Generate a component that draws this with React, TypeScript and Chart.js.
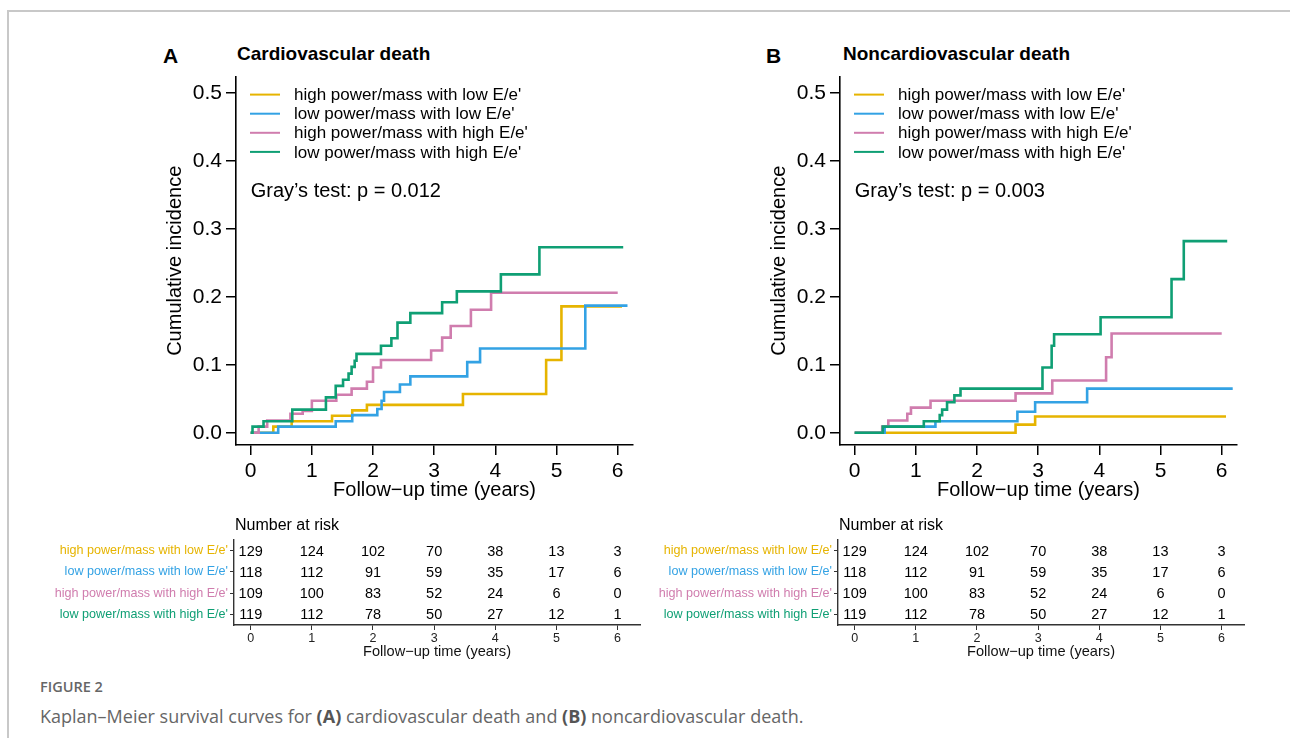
import React, { useEffect, useRef } from "react";
import { Chart, registerables } from "chart.js";

Chart.register(...registerables);
Chart.defaults.font.family = '"Liberation Sans", Arial, sans-serif';

// ---------- data ----------
const groupLabels = [
  "high power/mass with low E/e'",
  "low power/mass with low E/e'",
  "high power/mass with high E/e'",
  "low power/mass with high E/e'",
];
const groupColors = ["#E6B400", "#33A2E4", "#D07DAE", "#0F9F74"];

// Panel A: cardiovascular death (time in years, cumulative incidence)
const cvTimeHpLow = [0, 0.37, 0.67, 1.33, 1.66, 1.9, 3.47, 4.83, 5.08, 6.07];
const cvIncHpLow = [0, 0.009, 0.017, 0.025, 0.033, 0.041, 0.057, 0.107, 0.186, 0.186];
const cvTimeLpLow = [0, 0.45, 1.39, 1.66, 2.07, 2.14, 2.18, 2.44, 2.61, 3.54, 3.75, 5.47, 6.16];
const cvIncLpLow = [0, 0.009, 0.017, 0.026, 0.035, 0.047, 0.06, 0.071, 0.083, 0.104, 0.124, 0.187, 0.187];
const cvTimeHpHigh = [0, 0.13, 0.27, 0.65, 0.85, 1.0, 1.4, 1.65, 1.9, 2.0, 2.13, 2.95, 3.13, 3.27, 3.6, 3.93, 6.0];
const cvIncHpHigh = [0, 0.009, 0.018, 0.028, 0.032, 0.047, 0.056, 0.065, 0.075, 0.096, 0.107, 0.121, 0.14, 0.157, 0.181, 0.206, 0.206];
const cvTimeLpHigh = [0, 0.03, 0.21, 0.68, 1.23, 1.39, 1.51, 1.6, 1.65, 1.7, 1.73, 2.13, 2.3, 2.4, 2.61, 3.13, 3.37, 4.09, 4.72, 6.09];
const cvIncLpHigh = [0, 0.009, 0.017, 0.034, 0.052, 0.069, 0.078, 0.087, 0.097, 0.106, 0.116, 0.128, 0.139, 0.162, 0.176, 0.192, 0.208, 0.233, 0.273, 0.273];

// Panel B: noncardiovascular death
const ncvTimeHpLow = [0, 2.63, 2.95, 6.07];
const ncvIncHpLow = [0, 0.012, 0.024, 0.024];
const ncvTimeLpLow = [0, 0.49, 1.32, 2.66, 2.95, 3.8, 6.18];
const ncvIncLpLow = [0, 0.009, 0.017, 0.031, 0.045, 0.065, 0.065];
const ncvTimeHpHigh = [0, 0.45, 0.55, 0.86, 0.92, 1.24, 2.63, 3.23, 4.11, 4.2, 6.0];
const ncvIncHpHigh = [0, 0.009, 0.018, 0.028, 0.037, 0.047, 0.058, 0.077, 0.111, 0.146, 0.146];
const ncvTimeLpHigh = [0, 0.46, 1.13, 1.39, 1.43, 1.51, 1.63, 1.73, 3.07, 3.22, 3.26, 4.02, 5.18, 5.38, 6.09];
const ncvIncLpHigh = [0, 0.009, 0.017, 0.026, 0.034, 0.045, 0.055, 0.065, 0.096, 0.128, 0.145, 0.17, 0.226, 0.282, 0.282];

// Number at risk (same in both panels)
const riskTimes = [0, 1, 2, 3, 4, 5, 6];
const riskHpLow = [129, 124, 102, 70, 38, 13, 3];
const riskLpLow = [118, 112, 91, 59, 35, 17, 6];
const riskHpHigh = [109, 100, 83, 52, 24, 6, 0];
const riskLpHigh = [119, 112, 78, 50, 27, 12, 1];

const xTickValues = [0, 1, 2, 3, 4, 5, 6];
const yTickValues = [0, 0.1, 0.2, 0.3, 0.4, 0.5];

const xTitle = "Follow\u2212up time (years)";
const yTitle = "Cumulative incidence";
const pValueA = "0.012";
const pValueB = "0.003";

// ---------- plugins ----------
const plotDecor = {
  id: "plotDecor",
  afterDraw(chart: any, _args: any, opts: any) {
    const { ctx, chartArea } = chart;
    ctx.save();
    chart.data.datasets.forEach((ds: any, i: number) => {
      const y = chartArea.top + 18 + i * 19.1;
      ctx.strokeStyle = ds.borderColor;
      ctx.lineWidth = 2;
      ctx.beginPath();
      ctx.moveTo(chartArea.left + 14, y);
      ctx.lineTo(chartArea.left + 44, y);
      ctx.stroke();
      ctx.fillStyle = "#000";
      ctx.font = '17px "Liberation Sans", Arial, sans-serif';
      ctx.textBaseline = "middle";
      ctx.textAlign = "left";
      ctx.fillText(ds.label, chartArea.left + 58, y + 1);
    });
    ctx.font = '20px "Liberation Sans", Arial, sans-serif';
    ctx.fillStyle = "#000";
    ctx.textBaseline = "middle";
    ctx.fillText("Gray\u2019s test: p = " + opts.p, chartArea.left + 14.7, chartArea.top + 115);
    ctx.restore();
  },
};

const riskDecor = {
  id: "riskDecor",
  afterDatasetsDraw(chart: any) {
    const { ctx, chartArea } = chart;
    ctx.save();
    ctx.fillStyle = "#000";
    ctx.textAlign = "center";
    ctx.textBaseline = "middle";
    ctx.font = '14.5px "Liberation Sans", Arial, sans-serif';
    chart.data.datasets.forEach((ds: any, i: number) => {
      const meta = chart.getDatasetMeta(i);
      meta.data.forEach((pt: any, j: number) => {
        ctx.fillText(String(ds.data[j].n), pt.x, pt.y + 1);
      });
    });
    ctx.textAlign = "left";
    ctx.font = '16px "Liberation Sans", Arial, sans-serif';
    ctx.fillText("Number at risk", chartArea.left + 1, chartArea.top - 14);
    ctx.restore();
  },
};

// ---------- components ----------
function KMChart(props: { left: number; top: number; times: number[][]; values: number[][]; p: string }) {
  const ref = useRef<HTMLCanvasElement>(null);
  useEffect(() => {
    const chart = new Chart(ref.current as HTMLCanvasElement, {
      type: "line",
      data: {
        datasets: groupLabels.map((label, i) => ({
          label,
          data: props.times[i].map((t, j) => ({ x: t, y: props.values[i][j] })),
          borderColor: groupColors[i],
          backgroundColor: groupColors[i],
          borderWidth: 2.6,
          pointRadius: 0,
          stepped: "before" as const,
          fill: false,
          order: 3 - i,
        })),
      },
      options: {
        animation: false,
        responsive: false,
        events: [],
        layout: { padding: { left: 0, top: 13, right: 17, bottom: 0 } },
        plugins: {
          legend: { display: false },
          tooltip: { enabled: false },
          plotDecor: { p: props.p },
        } as any,
        scales: {
          x: {
            type: "linear",
            min: -0.24,
            max: 6.25,
            afterBuildTicks: (s: any) => {
              s.ticks = xTickValues.map((v) => ({ value: v }));
            },
            afterFit: (s: any) => {
              s.height = 65;
            },
            grid: { display: true, drawOnChartArea: false, drawTicks: true, tickLength: 10, color: "#000", lineWidth: 1.5 },
            border: { display: true, color: "#000", width: 1.6 },
            ticks: { color: "#000", font: { size: 21 }, padding: 4, maxRotation: 0, autoSkip: false, callback: (v: any) => String(v) },
            title: { display: true, text: xTitle, color: "#000", font: { size: 20 }, padding: { top: 0, bottom: 8 } },
          },
          y: {
            type: "linear",
            min: -0.018,
            max: 0.524,
            afterBuildTicks: (s: any) => {
              s.ticks = yTickValues.map((v) => ({ value: v }));
            },
            afterFit: (s: any) => {
              s.width = 96;
            },
            grid: { display: true, drawOnChartArea: false, drawTicks: true, tickLength: 10, color: "#000", lineWidth: 1.5 },
            border: { display: true, color: "#000", width: 1.6 },
            ticks: { color: "#000", font: { size: 21 }, padding: 4, autoSkip: false, callback: (v: any) => Number(v).toFixed(1) },
            title: { display: true, text: yTitle, color: "#000", font: { size: 20 }, padding: { top: 23, bottom: 0 } },
          },
        },
      },
      plugins: [plotDecor],
    });
    return () => chart.destroy();
  }, []);
  return (
    <div style={{ position: "absolute", left: props.left, top: props.top, width: 510, height: 450 }}>
      <canvas ref={ref} width={510} height={450} style={{ display: "block" }} />
    </div>
  );
}

function RiskTable(props: { left: number; top: number }) {
  const ref = useRef<HTMLCanvasElement>(null);
  useEffect(() => {
    const rows = [riskHpLow, riskLpLow, riskHpHigh, riskLpHigh];
    const chart = new Chart(ref.current as HTMLCanvasElement, {
      type: "scatter",
      data: {
        datasets: groupLabels.map((label, i) => ({
          label,
          data: riskTimes.map((t, j) => ({ x: t, y: label, n: rows[i][j] })) as any,
          pointRadius: 0,
          showLine: false,
        })),
      },
      options: {
        animation: false,
        responsive: false,
        events: [],
        layout: { padding: { left: 0, top: 30, right: 10, bottom: 0 } },
        plugins: { legend: { display: false }, tooltip: { enabled: false } },
        scales: {
          x: {
            type: "linear",
            min: -0.273,
            max: 6.367,
            afterBuildTicks: (s: any) => {
              s.ticks = xTickValues.map((v) => ({ value: v }));
            },
            afterFit: (s: any) => {
              s.height = 40;
            },
            grid: { display: true, drawOnChartArea: false, drawTicks: true, tickLength: 5, color: "#333", lineWidth: 1 },
            border: { display: true, color: "#333", width: 1.4 },
            ticks: { color: "#222", font: { size: 12.5 }, padding: 1, maxRotation: 0, autoSkip: false, callback: (v: any) => String(v) },
            title: { display: true, text: xTitle, color: "#111", font: { size: 14.6 }, padding: { top: 0, bottom: 4 } },
          },
          y: {
            type: "category",
            labels: groupLabels,
            offset: true,
            afterFit: (s: any) => {
              s.width = 194;
            },
            grid: { display: true, drawOnChartArea: false, drawTicks: true, tickLength: 4, color: "#333", lineWidth: 1, offset: false },
            border: { display: true, color: "#333", width: 1.4 },
            ticks: { color: (c: any) => groupColors[c.index], font: { size: 12.6 }, padding: 2, autoSkip: false },
          },
        } as any,
      },
      plugins: [riskDecor],
    });
    return () => chart.destroy();
  }, []);
  return (
    <div style={{ position: "absolute", left: props.left, top: props.top, width: 610, height: 155 }}>
      <canvas ref={ref} width={610} height={155} style={{ display: "block" }} />
    </div>
  );
}

function Label(props: { left: number; top: number; size: number; text: string; bold?: boolean }) {
  return (
    <div
      style={{
        position: "absolute",
        left: props.left,
        top: props.top,
        fontSize: props.size,
        lineHeight: 1,
        fontWeight: props.bold ? 700 : 400,
        whiteSpace: "nowrap",
        color: "#000",
      }}
    >
      {props.text}
    </div>
  );
}

export default function App() {
  return (
    <div
      style={{
        position: "absolute",
        left: 0,
        top: 0,
        width: 1290,
        height: 747,
        overflow: "hidden",
        background: "#fff",
        fontFamily: '"Liberation Sans", Arial, sans-serif',
      }}
    >
      <div
        style={{
          position: "absolute",
          left: 7,
          top: 10,
          width: 1283,
          height: 728,
          boxSizing: "border-box",
          borderTop: "2px solid #c8c8c8",
          borderLeft: "2px solid #c8c8c8",
        }}
      />
      <Label left={163} top={45} size={21} text="A" bold />
      <Label left={237} top={44} size={19} text="Cardiovascular death" bold />
      <Label left={766} top={45} size={21} text="B" bold />
      <Label left={843} top={44} size={19} text="Noncardiovascular death" bold />

      <KMChart
        left={140}
        top={60}
        times={[cvTimeHpLow, cvTimeLpLow, cvTimeHpHigh, cvTimeLpHigh]}
        values={[cvIncHpLow, cvIncLpLow, cvIncHpHigh, cvIncLpHigh]}
        p={pValueA}
      />
      <KMChart
        left={744}
        top={60}
        times={[ncvTimeHpLow, ncvTimeLpLow, ncvTimeHpHigh, ncvTimeLpHigh]}
        values={[ncvIncHpLow, ncvIncLpLow, ncvIncHpHigh, ncvIncLpHigh]}
        p={pValueB}
      />
      <RiskTable left={40} top={510} />
      <RiskTable left={644} top={510} />

      <div
        style={{
          position: "absolute",
          left: 40,
          top: 680,
          fontFamily: '"Open Sans", sans-serif',
          fontSize: 14.5,
          fontWeight: 600,
          color: "#666",
          lineHeight: 1,
          whiteSpace: "nowrap",
        }}
      >
        FIGURE 2
      </div>
      <div
        style={{
          position: "absolute",
          left: 40,
          top: 707,
          fontFamily: '"Open Sans", sans-serif',
          fontSize: 18,
          color: "#666",
          lineHeight: 1,
          whiteSpace: "nowrap",
        }}
      >
        Kaplan–Meier survival curves for <b style={{ color: "#555" }}>(A)</b> cardiovascular death and{" "}
        <b style={{ color: "#555" }}>(B)</b> noncardiovascular death.
      </div>
    </div>
  );
}
